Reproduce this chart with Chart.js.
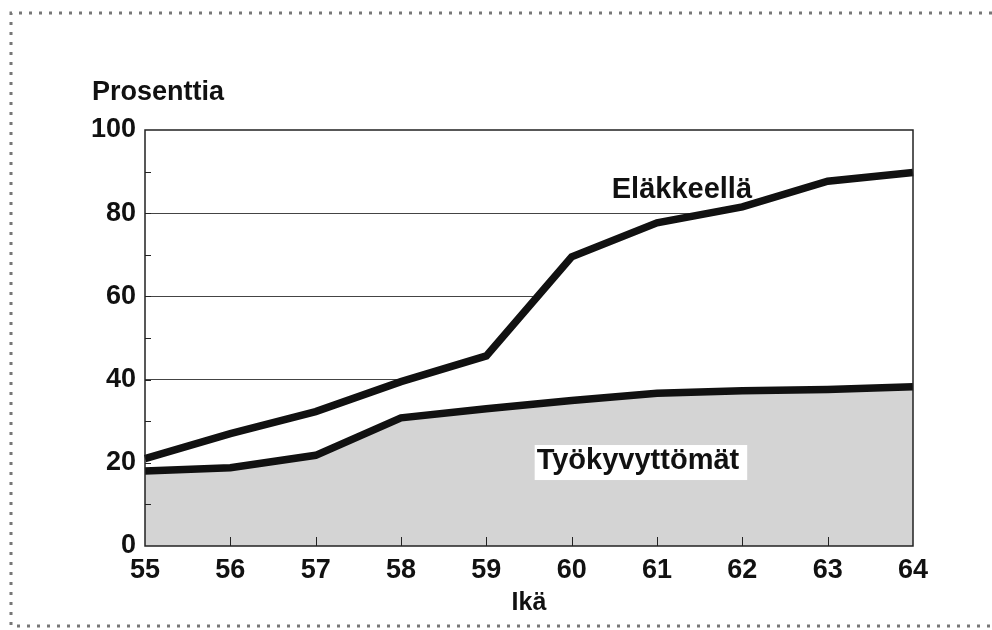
<!DOCTYPE html>
<html>
<head>
<meta charset="utf-8">
<script src="https://cdn.jsdelivr.net/npm/chart.js@4.4.0/dist/chart.umd.min.js"></script>
<style>
  html, body { margin: 0; padding: 0; background: #fff; }
  #wrap { width: 992px; height: 630px; }
</style>
</head>
<body>
<div id="wrap"><canvas id="kaavio" width="992" height="630"></canvas></div>
<script>
const ika = ["55", "56", "57", "58", "59", "60", "61", "62", "63", "64"]
const elakkeella = [21, 27, 32.3, 39.5, 45.7, 69.5, 77.7, 81.5, 87.7, 89.8]
const tyokyvyttomat = [18, 18.8, 21.8, 30.8, 33, 35, 36.7, 37.3, 37.6, 38.3]
const yAskel = 10
const yNakyvat = 20

const tekstiVari = "#111"
const fontti = "'Liberation Sans', Arial, sans-serif"

// reunat, sisäänpäin olevat tikit ja tekstit
const piirrokset = {
    id: "piirrokset",
    beforeDraw(chart) {
        const c = chart.ctx
        c.save()
        c.strokeStyle = "#777"
        c.lineWidth = 3
        c.setLineDash([3, 7])
        c.beginPath()
        c.moveTo(992, 13)
        c.lineTo(11, 13)
        c.lineTo(11, 626)
        c.lineTo(992, 626)
        c.stroke()
        c.restore()
    },
    afterDatasetsDraw(chart) {
        const c = chart.ctx
        const a = chart.chartArea
        const x = chart.scales.x
        const y = chart.scales.y
        c.save()
        c.strokeStyle = "#222"
        c.lineWidth = 1.5
        c.strokeRect(a.left, a.top, a.right - a.left, a.bottom - a.top)

        c.lineWidth = 1
        c.beginPath()
        for (let v = yAskel; v < 100; v += yAskel) {
            const py = Math.round(y.getPixelForValue(v)) + 0.5
            c.moveTo(a.left, py)
            c.lineTo(a.left + 6, py)
        }
        for (let i = 1; i < ika.length - 1; i++) {
            const px = Math.round(x.getPixelForValue(i)) + 0.5
            c.moveTo(px, a.bottom)
            c.lineTo(px, a.bottom - 9)
        }
        c.stroke()

        c.fillStyle = tekstiVari
        c.font = "bold 27px " + fontti
        c.textBaseline = "alphabetic"
        c.textAlign = "left"
        c.fillText("Prosenttia", a.left - 53, a.top - 30)

        c.font = "bold 29px " + fontti
        c.fillText("Eläkkeellä", x.getPixelForValue(5.47), y.getPixelForValue(83.6))

        const tx = x.getPixelForValue(4.59)
        const ty = y.getPixelForValue(18.5)
        const leveys = c.measureText("Työkyvyttömät").width
        c.fillStyle = "#fff"
        c.fillRect(tx - 2, ty - 24, leveys + 10, 35)
        c.fillStyle = tekstiVari
        c.fillText("Työkyvyttömät", tx, ty)
        c.restore()
    }
}

new Chart(document.getElementById("kaavio"), {
    type: "line",
    data: {
        labels: ika,
        datasets: [
            {
                label: "Työkyvyttömät",
                data: tyokyvyttomat,
                borderColor: "#111",
                borderWidth: 7.5,
                backgroundColor: "#d4d4d4",
                fill: "origin",
                pointRadius: 0,
                tension: 0
            },
            {
                label: "Eläkkeellä",
                data: elakkeella,
                borderColor: "#111",
                borderWidth: 7.5,
                backgroundColor: "#fff",
                fill: "-1",
                pointRadius: 0,
                tension: 0
            }
        ]
    },
    options: {
        responsive: false,
        animation: false,
        layout: { padding: { left: 0, right: 79, top: 130, bottom: 0 } },
        plugins: {
            legend: { display: false },
            tooltip: { enabled: false }
        },
        scales: {
            x: {
                offset: false,
                grid: { display: false, drawTicks: false },
                border: { display: false },
                ticks: {
                    color: tekstiVari,
                    padding: 8,
                    maxRotation: 0,
                    font: { family: fontti, size: 27, weight: "bold" }
                },
                title: {
                    display: true,
                    text: "Ikä",
                    color: tekstiVari,
                    padding: { top: 0, bottom: 12 },
                    font: { family: fontti, size: 25, weight: "bold" }
                },
                afterFit(s) { s.height = 84 }
            },
            y: {
                min: 0,
                max: 100,
                border: { display: false },
                grid: {
                    drawTicks: false,
                    lineWidth: 1,
                    color: (k) => (k.tick && k.tick.value % yNakyvat === 0 && k.tick.value > 0 && k.tick.value < 100) ? "#444" : "rgba(0,0,0,0)"
                },
                ticks: {
                    stepSize: yAskel,
                    padding: 9,
                    color: tekstiVari,
                    font: { family: fontti, size: 27, weight: "bold" },
                    callback: (v) => v % yNakyvat === 0 ? v : ""
                },
                afterFit(s) { s.width = 145 }
            }
        }
    },
    plugins: [piirrokset]
})
</script>
</body>
</html>
